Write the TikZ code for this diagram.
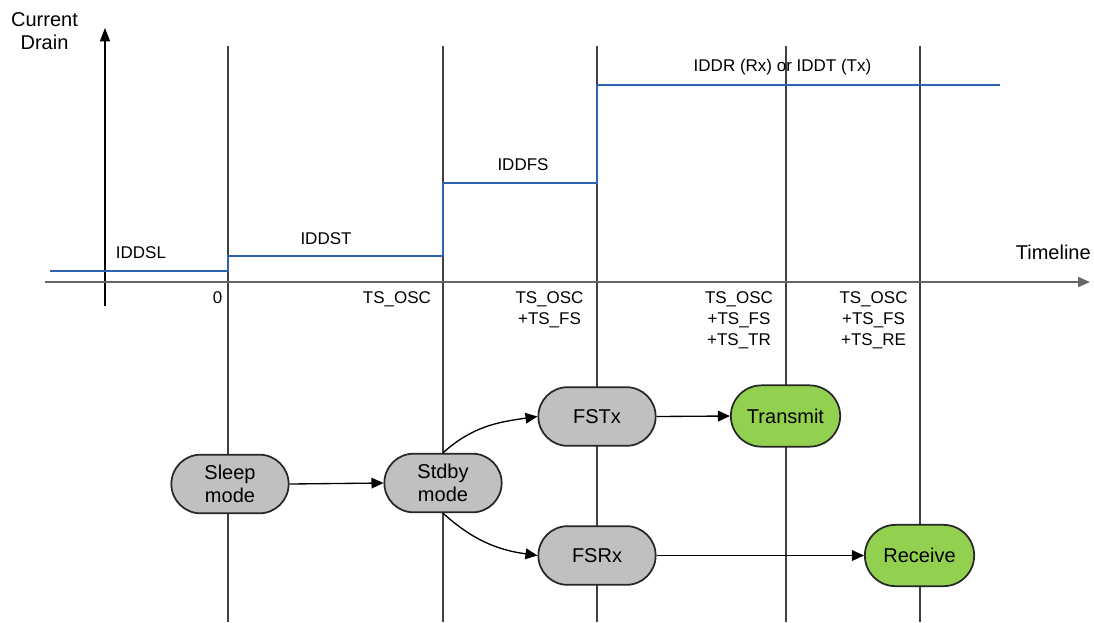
\documentclass[tikz,border=0pt]{standalone}
\usepackage{fontspec}
\setmainfont{Liberation Sans}
\usetikzlibrary{shapes.misc,arrows.meta}
\definecolor{stepblue}{HTML}{2F62B0}
\definecolor{modegray}{HTML}{C0C0C0}
\definecolor{modegreen}{HTML}{92D050}
\begin{document}
\begin{tikzpicture}[x=0.75pt,y=-0.75pt,
  lbl/.style={inner sep=0pt,font=\fontsize{12.75}{15.75}\selectfont,align=center},
  big/.style={inner sep=0pt,font=\fontsize{15}{17.25}\selectfont,align=center},
  mode/.style={rounded rectangle,draw=black!85,line width=1.3pt,minimum width=88pt,minimum height=44pt,inner sep=0pt,font=\fontsize{15}{17.25}\selectfont,align=center},
  graymode/.style={mode,fill=modegray},
  greenmode/.style={mode,fill=modegreen,minimum width=82pt,minimum height=46pt},
  vline/.style={draw=black!75,line width=0.8pt},
  conn/.style={draw=black,line width=1pt,-{Triangle[length=9pt,width=8pt]}}]
\useasboundingbox (0,0) rectangle (1094,622);
% vertical time markers
\foreach \x/\n in {228/v0,443/v1,597/v2,786/v3,920/v4}{
  \coordinate (\n t) at (\x,46);
  \coordinate (\n b) at (\x,622);
  \draw[vline] (\n t) -- (\n b);
}
% axes
\coordinate (yb) at (105,306);
\coordinate (yt) at (105,28);
\coordinate (xl) at (45,282);
\coordinate (xr) at (1090,282);
\draw[line width=0.9pt,-{Triangle[length=10pt,width=7.5pt]}] (yb) -- (yt);
\draw[draw=black!60,line width=1.3pt,-{Triangle[length=9pt,width=7.5pt]}] (xl) -- (xr);
% current step curve
\coordinate (s0) at (50,271);
\coordinate (s1) at (228,271);
\coordinate (s2) at (228,256);
\coordinate (s3) at (443,256);
\coordinate (s4) at (443,183);
\coordinate (s5) at (597,183);
\coordinate (s6) at (597,85);
\coordinate (s7) at (1000,85);
\draw[stepblue,line width=1.6pt] (s0) -- (s1) -- (s2) -- (s3) -- (s4) -- (s5) -- (s6) -- (s7);
% labels
\node[big] (cd) at (44.5,31) {Current\\Drain};
\node[big,anchor=east] (tl) at (1091,252) {Timeline};
\node[lbl] (l1) at (141,253) {IDDSL};
\node[lbl] (l2) at (326,239) {IDDST};
\node[lbl] (l3) at (523,165) {IDDFS};
\node[lbl] (l4) at (782.5,67) {IDDR (Rx) or IDDT (Tx)};
\node[lbl,anchor=north east] (t0) at (222.5,291) {0};
\node[lbl,anchor=north] (t1) at (397,291) {TS\_OSC};
\node[lbl,anchor=north] (t2) at (549.5,291) {TS\_OSC\\+TS\_FS};
\node[lbl,anchor=north] (t3) at (739,291) {TS\_OSC\\+TS\_FS\\+TS\_TR};
\node[lbl,anchor=north] (t4) at (873.5,291) {TS\_OSC\\+TS\_FS\\+TS\_RE};
% mode nodes
\node[graymode] (sleep) at (230,484) {Sleep\\mode};
\node[graymode] (stdby) at (443,483) {Stdby\\mode};
\node[graymode] (fstx) at (597,416.5) {FSTx};
\node[graymode] (fsrx) at (597,555.5) {FSRx};
\node[greenmode] (tx) at (785.5,416) {Transmit};
\node[greenmode] (rx) at (919.5,555.5) {Receive};
% connectors
\draw[conn] (sleep.east) -- (stdby.west);
\draw[conn] (stdby.north) to[out=42,in=188] (fstx.west);
\draw[conn] (stdby.south) to[out=-42,in=172] (fsrx.west);
\draw[conn] (fstx.east) -- (tx.west);
\draw[conn] (fsrx.east) -- (rx.west);
\end{tikzpicture}
\end{document}
